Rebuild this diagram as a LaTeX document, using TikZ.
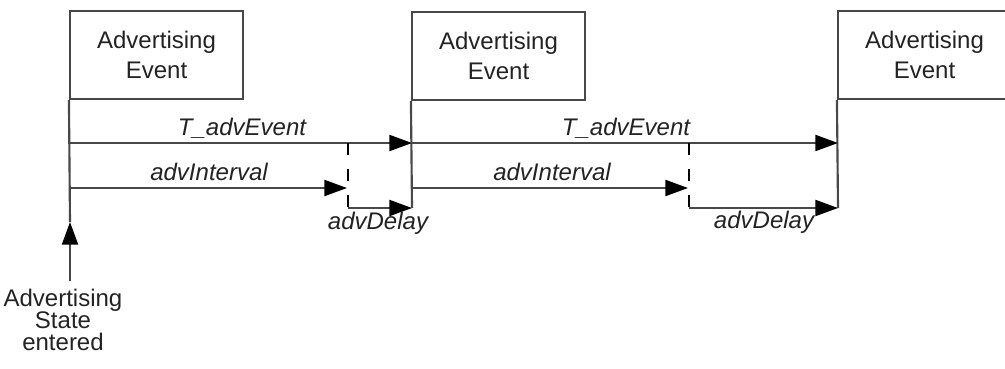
\documentclass[tikz,border=0pt]{standalone}
\usepackage{fontspec}
\setmainfont{Liberation Sans}
\usetikzlibrary{arrows.meta}
\definecolor{lc}{RGB}{72,72,72}
\definecolor{tc}{RGB}{35,35,35}
\begin{document}
\begin{tikzpicture}[x=0.75pt,y=-0.75pt, line width=1.6pt, color=lc,
  evbox/.style={draw=lc, line width=1.6pt, minimum width=129.75pt, minimum height=66pt,
    inner sep=0pt, align=center, text=tc, font=\fontsize{18}{22.5}\selectfont},
  lbl/.style={inner sep=0pt, text=tc, font=\fontsize{18}{22}\selectfont\itshape},
  stlbl/.style={inner sep=0pt, align=center, text=tc, font=\fontsize{18}{16.5}\selectfont},
  arr/.style={-{Triangle[length=17pt,width=12pt,color=black]}},
  dsh/.style={draw=black, line width=2.2pt, dash pattern=on 9pt off 10.5pt}]
\useasboundingbox (0,0) rectangle (1005,368);
\clip (0,0) rectangle (1005,368);
% boxes
\node[evbox] (e1) at (156.5,55) {Advertising\\Event};
\node[evbox] (e2) at (498.5,56) {Advertising\\Event};
\node[evbox] (e3) at (924.5,55) {Advertising\\Event};
% coordinates
\coordinate (s1) at (70,222);
\coordinate (s0) at (70,281);
\coordinate (a1) at (70,143);
\coordinate (b1) at (70,188);
\coordinate (d1t) at (348,143);
\coordinate (d1b) at (348,208);
\coordinate (i1e) at (347,188);
\coordinate (a2) at (412,143);
\coordinate (b2) at (412,188);
\coordinate (c2) at (412,208);
\coordinate (d2t) at (689,143);
\coordinate (d2b) at (689,208);
\coordinate (i2e) at (688,188);
\coordinate (a3) at (838,143);
\coordinate (c3) at (838,208);
% verticals
\draw (e1.south west) -- (s1);
\draw (e2.south west) -- (c2);
\draw (e3.south west) -- (c3);
\draw[arr] (s0) -- (s1);
% row 1
\draw[arr] (a1) -- (a2);
\draw[arr] (b1) -- (i1e);
\draw[dsh] (d1t) -- (d1b);
\draw[arr] (d1b) -- (c2);
% row 2
\draw[arr] (a2) -- (a3);
\draw[arr] (b2) -- (i2e);
\draw[dsh] (d2t) -- (d2b);
\draw[arr] (d2b) -- (c3);
% labels
\node[lbl] (l1) at (242,128) {T\_advEvent};
\node[lbl] (l2) at (209,172) {advInterval};
\node[lbl] (l3) at (378,223) {advDelay};
\node[lbl] (l4) at (626,128) {T\_advEvent};
\node[lbl] (l5) at (552,172) {advInterval};
\node[lbl] (l6) at (764,222) {advDelay};
\node[stlbl] (st) at (63,320) {Advertising\\State\\entered};
\end{tikzpicture}
\end{document}
